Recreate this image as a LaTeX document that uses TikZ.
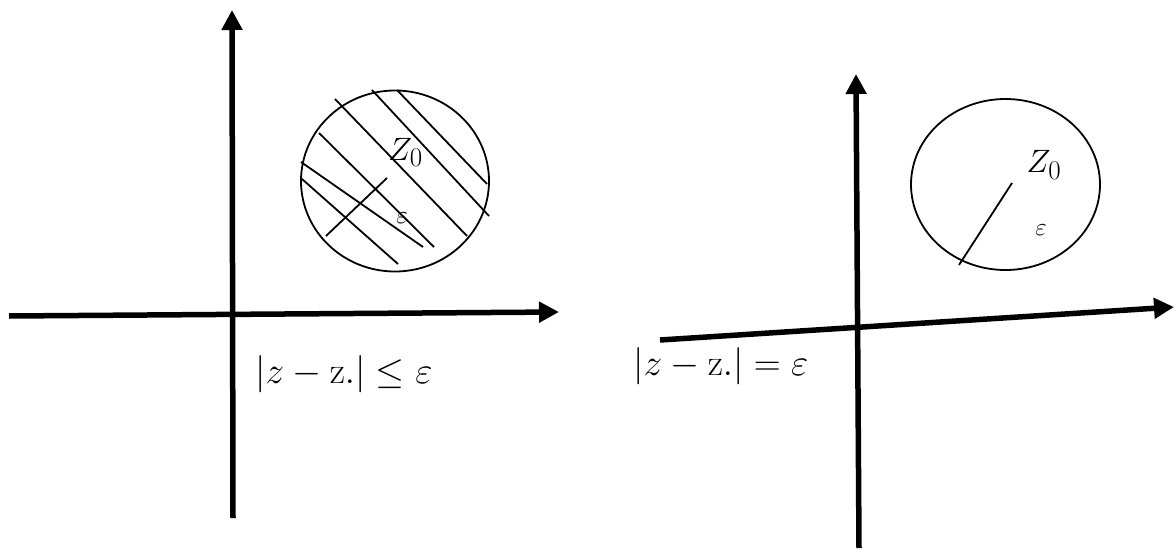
\documentclass[tikz,border=0pt]{standalone}
\usepackage{graphicx}
\usetikzlibrary{arrows.meta}
\begin{document}
\begin{tikzpicture}[x=1pt,y=-1pt,
  axis/.style={line width=5.5pt,-{Triangle[width=20pt,length=20pt]}},
  circ/.style={line width=1.8pt},
  hatch/.style={line width=1.8pt},
  lab/.style={inner sep=0pt,font=\fontsize{24.88}{30}\selectfont},
  eps/.style={inner sep=0pt,font=\fontsize{24.88}{30}\selectfont},
  formula/.style={inner sep=0pt,anchor=base west,font=\fontsize{24.88}{30}\selectfont}]
\useasboundingbox (0,0) rectangle (1176,552);
% left figure
\coordinate (lyb) at (233,518);
\coordinate (lyt) at (232,10);
\coordinate (lxl) at (9,316);
\coordinate (lxr) at (559,312);
\draw[axis] (lyb) -- (lyt);
\draw[axis] (lxl) -- (lxr);
\draw[circ] (395,181) ellipse [x radius=94, y radius=90.5];
\draw[hatch] (335,99) -- (467,236);
\draw[hatch] (372,90) -- (489,216);
\draw[hatch] (397,90) -- (487,184);
\draw[hatch] (319,133) -- (434,247);
\draw[hatch] (301,162) -- (423,247);
\draw[hatch] (302,179) -- (398,264);
\draw[hatch] (387,178) -- (326,236);
\node[lab] (z0l) at (405.5,152.5) {\scalebox{1.3}{$Z_0$}};
\node[eps] (epsl) at (402,218) {$\varepsilon$};
\node[formula] (fl) at (255,383) {\scalebox{1.5}{$|z-\mathrm{z.}|\le\varepsilon$}};
% right figure
\coordinate (ryb) at (859,548);
\coordinate (ryt) at (856,74);
\coordinate (rxl) at (660,340);
\coordinate (rxr) at (1174,307);
\draw[axis] (ryb) -- (ryt);
\draw[axis] (rxl) -- (rxr);
\draw[circ] (1005.5,184.5) ellipse [x radius=94.5, y radius=85.5];
\coordinate (rc) at (1012,183);
\coordinate (rp) at (959,265);
\draw[hatch] (rc) -- (rp);
\node[lab] (z0r) at (1044,165) {\scalebox{1.3}{$Z_0$}};
\node[eps] (epsr) at (1041,230) {$\varepsilon$};
\node[formula] (fr) at (633,375) {\scalebox{1.5}{$|z-\mathrm{z.}|=\varepsilon$}};
\end{tikzpicture}
\end{document}
